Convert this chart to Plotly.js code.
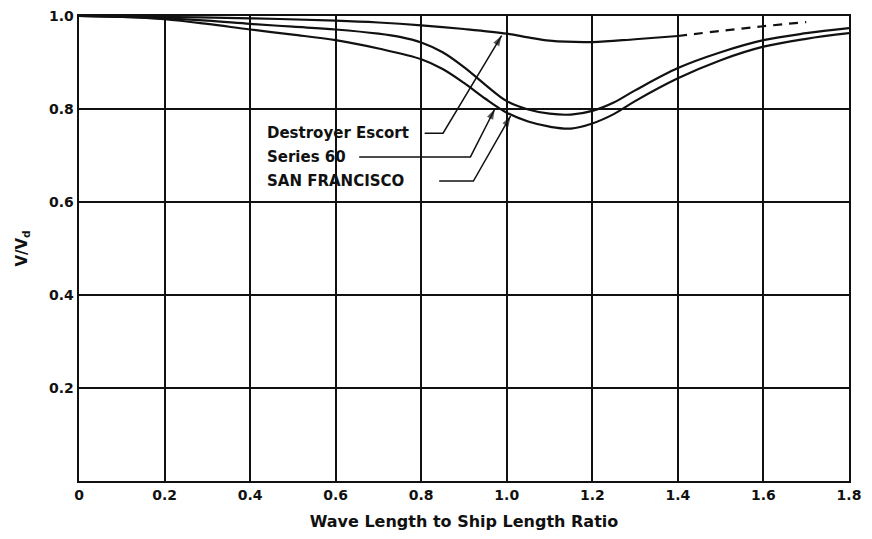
<!DOCTYPE html>
<html>
<head>
<meta charset="utf-8">
<script src="https://cdn.plot.ly/plotly-3.0.1.min.js"></script>
<style>html,body{margin:0;padding:0;background:#fff;}#chart{width:872px;height:539px;}</style>
</head>
<body>
<div id="chart"></div>
<script>
// Destroyer Escort (solid part, then dashed extrapolation)
const deX = [0, 0.2, 0.4, 0.6, 0.7, 0.8, 0.9, 1.0, 1.05, 1.1, 1.2, 1.3, 1.4];
const deY = [1.0, 0.998, 0.995, 0.99, 0.986, 0.98, 0.972, 0.962, 0.954, 0.947, 0.944, 0.95, 0.957];
const deDashX = [1.4, 1.5, 1.6, 1.7];
const deDashY = [0.957, 0.968, 0.978, 0.987];

// Series 60
const s60X = [0, 0.1, 0.2, 0.3, 0.4, 0.5, 0.6, 0.7, 0.75, 0.8, 0.85, 0.9, 0.95, 1.0, 1.05, 1.1, 1.15, 1.2, 1.25, 1.3, 1.4, 1.5, 1.6, 1.7, 1.8];
const s60Y = [1.0, 0.998, 0.995, 0.99, 0.983, 0.977, 0.971, 0.962, 0.955, 0.943, 0.922, 0.89, 0.852, 0.817, 0.799, 0.79, 0.788, 0.796, 0.814, 0.84, 0.888, 0.922, 0.948, 0.963, 0.974];

// SAN FRANCISCO
const sfX = [0, 0.1, 0.2, 0.3, 0.4, 0.5, 0.6, 0.7, 0.8, 0.85, 0.9, 0.95, 1.0, 1.05, 1.1, 1.15, 1.2, 1.25, 1.3, 1.4, 1.5, 1.6, 1.7, 1.8];
const sfY = [1.0, 0.998, 0.993, 0.983, 0.971, 0.96, 0.948, 0.93, 0.907, 0.886, 0.856, 0.822, 0.792, 0.773, 0.762, 0.758, 0.769, 0.789, 0.817, 0.866, 0.905, 0.934, 0.951, 0.963];

// Axis ticks
const xTickVals = [0, 0.2, 0.4, 0.6, 0.8, 1.0, 1.2, 1.4, 1.6, 1.8];
const xTickText = ["0", "0.2", "0.4", "0.6", "0.8", "1.0", "1.2", "1.4", "1.6", "1.8"];
const yTickVals = [0.2, 0.4, 0.6, 0.8, 1.0];
const yTickText = ["0.2", "0.4", "0.6", "0.8", "1.0"];

// Curve labels and their leader lines
const labelNames = ["Destroyer Escort", "Series 60", "SAN FRANCISCO"];
const labelX = [0.434, 0.434, 0.434];
const labelY = [0.748, 0.697, 0.645];
const leaderStartX = [0.808, 0.655, 0.842];
const leaderEndX = [0.851, 0.915, 0.922];
const tipX = [0.988, 0.972, 1.009];
const tipY = [0.958, 0.800, 0.785];

const ink = '#111';
const lineStyle = {color: ink, width: 2.2, shape: 'spline', smoothing: 1};

const traces = [
  {x: deX, y: deY, mode: 'lines', line: lineStyle, name: 'Destroyer Escort', showlegend: false, hoverinfo: 'skip'},
  {x: deDashX, y: deDashY, mode: 'lines', line: {color: ink, width: 2.2, dash: '9px,7px', shape: 'spline'}, name: 'Destroyer Escort (extrap.)', showlegend: false, hoverinfo: 'skip'},
  {x: s60X, y: s60Y, mode: 'lines', line: lineStyle, name: 'Series 60', showlegend: false, hoverinfo: 'skip'},
  {x: sfX, y: sfY, mode: 'lines', line: lineStyle, name: 'SAN FRANCISCO', showlegend: false, hoverinfo: 'skip'}
];

// leader lines: horizontal then diagonal, arrowhead at the curve
for (let i = 0; i < labelNames.length; i++) {
  traces.push({
    x: [leaderStartX[i], leaderEndX[i], tipX[i]],
    y: [labelY[i], labelY[i], tipY[i]],
    mode: 'lines+markers',
    line: {color: ink, width: 1.5},
    marker: {symbol: 'arrow', angleref: 'previous', size: [0, 0, 11], color: ink, line: {width: 0}},
    showlegend: false, hoverinfo: 'skip'
  });
}

const annotations = [];
for (let i = 0; i < labelNames.length; i++) {
  annotations.push({x: labelX[i], y: labelY[i], xref: 'x', yref: 'y', text: labelNames[i],
    showarrow: false, xanchor: 'left', yanchor: 'middle',
    font: {family: 'DejaVu Sans, sans-serif', size: 15, color: ink, weight: 'bold'}});
}

const layout = {
  width: 872, height: 539,
  margin: {l: 79, r: 23, t: 16, b: 58},
  paper_bgcolor: '#fff', plot_bgcolor: '#fff',
  showlegend: false,
  font: {family: 'DejaVu Sans, sans-serif', color: ink},
  xaxis: {
    range: [0, 1.8], tickvals: xTickVals, ticktext: xTickText, ticks: '',
    showgrid: true, gridcolor: ink, gridwidth: 2, zeroline: false,
    showline: true, linecolor: ink, linewidth: 2.4, mirror: true,
    tickfont: {size: 14, color: ink, weight: 'bold'},
    title: {text: 'Wave Length to Ship Length Ratio', font: {size: 16, color: ink, weight: 'bold'}, standoff: 14}
  },
  yaxis: {
    range: [0, 1.0], tickvals: yTickVals, ticktext: yTickText, ticks: '',
    showgrid: true, gridcolor: ink, gridwidth: 2, zeroline: false,
    showline: true, linecolor: ink, linewidth: 2.4, mirror: true,
    tickfont: {size: 14, color: ink, weight: 'bold'},
    title: {text: 'V/V<sub>d</sub>', font: {size: 15, color: ink, weight: 'bold'}, standoff: 18}
  },
  annotations: annotations
};

Plotly.newPlot('chart', traces, layout, {staticPlot: true, displayModeBar: false});
</script>
</body>
</html>
